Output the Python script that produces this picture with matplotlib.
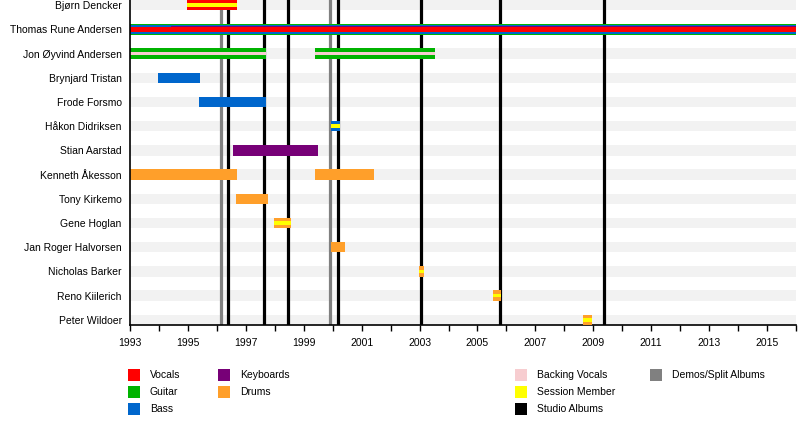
import matplotlib
matplotlib.use("Agg")
import matplotlib.pyplot as plt
from matplotlib.patches import Rectangle
from matplotlib.ticker import FixedLocator

plt.rcParams['font.family'] = ['Liberation Sans', 'DejaVu Sans']

# ---------------- data ----------------
members = ["Bjørn Dencker", "Thomas Rune Andersen", "Jon Øyvind Andersen",
           "Brynjard Tristan", "Frode Forsmo", "Håkon Didriksen", "Stian Aarstad",
           "Kenneth Åkesson", "Tony Kirkemo", "Gene Hoglan", "Jan Roger Halvorsen",
           "Nicholas Barker", "Reno Kiilerich", "Peter Wildoer"]

start_year = 1993.0
end_year = 2016.0
tick_years = list(range(1993, 2016, 2))
minor_years = list(range(1993, 2017))

# (member, from, till)
guitar = [("Thomas Rune Andersen", 1993.0, 2016.0),
          ("Jon Øyvind Andersen", 1993.0, 1997.68),
          ("Jon Øyvind Andersen", 1999.38, 2003.52)]
bass = [("Thomas Rune Andersen", 1993.0, 2016.0),
        ("Brynjard Tristan", 1993.97, 1995.41),
        ("Frode Forsmo", 1995.38, 1997.68),
        ("Håkon Didriksen", 1999.95, 2000.26)]
keyboards_thin = [("Thomas Rune Andersen", 1994.4, 2016.0)]
keyboards = [("Stian Aarstad", 1996.56, 1999.5)]
vocals = [("Bjørn Dencker", 1994.98, 1996.69),
          ("Thomas Rune Andersen", 1993.0, 2016.0)]
drums = [("Kenneth Åkesson", 1993.0, 1996.68),
         ("Kenneth Åkesson", 1999.38, 2001.41),
         ("Tony Kirkemo", 1996.66, 1997.76),
         ("Gene Hoglan", 1997.97, 1998.55),
         ("Jan Roger Halvorsen", 1999.93, 2000.41),
         ("Nicholas Barker", 2002.97, 2003.14),
         ("Reno Kiilerich", 2005.55, 2005.82),
         ("Peter Wildoer", 2008.66, 2008.94)]
backing_vocals = [("Jon Øyvind Andersen", 1993.0, 1997.68),
                  ("Jon Øyvind Andersen", 1999.38, 2003.52)]
session = [("Bjørn Dencker", 1994.98, 1996.69),
           ("Håkon Didriksen", 1999.95, 2000.26),
           ("Gene Hoglan", 1997.97, 1998.55),
           ("Nicholas Barker", 2002.97, 2003.14),
           ("Reno Kiilerich", 2005.55, 2005.82),
           ("Peter Wildoer", 2008.66, 2008.94)]

studio_albums = [1996.40, 1997.63, 1998.46, 2000.18, 2003.05, 2005.77, 2009.36]
demo_albums = [1996.14, 1999.91]

colors = {
    "Vocals": "#ff0000", "Guitar": "#00b300", "Bass": "#0066cc",
    "Keyboards": "#770077", "Drums": "#ff9f2a",
    "Backing Vocals": "#f7cdd0", "Session Member": "#ffff00",
    "Studio Albums": "#000000", "Demos/Split Albums": "#808080",
}

# ---------------- figure ----------------
W, H = 800, 425
fig = plt.figure(figsize=(W / 100, H / 100), dpi=100)
ax = fig.add_axes([130 / W, (H - 325) / H, (796 - 130) / W, 325 / H])

h = 0.43
idx = {m: i for i, m in enumerate(members)}

# background stripes
ax.barh(range(len(members)), end_year - start_year, left=start_year, height=h,
        color="#f2f2f2", zorder=0, linewidth=0)

# album lines
for x in demo_albums:
    ax.axvline(x, color=colors["Demos/Split Albums"], lw=2.3, zorder=1)
for x in studio_albums:
    ax.axvline(x, color=colors["Studio Albums"], lw=2.3, zorder=1)


def draw(data, color, frac, z, offset=0.0):
    for m, a, b in data:
        ax.barh(idx[m] + offset * h, b - a, left=a, height=h * frac,
                color=color, zorder=z, linewidth=0)


draw(guitar, colors["Guitar"], 1.0, 2)
draw(bass[:1], colors["Bass"], 0.8, 3)
draw(bass[1:], colors["Bass"], 1.0, 3)
draw(keyboards_thin, colors["Keyboards"], 0.12, 4, offset=-0.31)
draw(keyboards, colors["Keyboards"], 1.0, 3)
draw(vocals[:1], colors["Vocals"], 1.0, 3)
draw(vocals[1:], colors["Vocals"], 0.5, 5)
draw(drums, colors["Drums"], 1.0, 3)
draw(backing_vocals, colors["Backing Vocals"], 0.3, 5)
draw(session, colors["Session Member"], 0.33, 6)

ax.set_xlim(start_year, end_year)
ax.set_ylim(len(members) - 1 + h / 2, -h / 2)
ax.set_yticks(range(len(members)))
ax.set_yticklabels(members, fontsize=7.5)
ax.tick_params(axis='y', length=0, pad=6)
ax.xaxis.set_major_locator(FixedLocator(tick_years))
ax.xaxis.set_minor_locator(FixedLocator(minor_years))
ax.set_xticklabels([str(y) for y in tick_years])
ax.tick_params(axis='x', which='both', length=4, width=1, labelsize=7.5, pad=5)
for s in ["top", "right"]:
    ax.spines[s].set_visible(False)
ax.spines["left"].set_linewidth(1.2)
ax.spines["bottom"].set_linewidth(1.2)
ax.spines["left"].set_zorder(10)
ax.set_facecolor("white")

# legend
legend_cols = [
    (128, ["Vocals", "Guitar", "Bass"]),
    (218, ["Keyboards", "Drums"]),
    (515, ["Backing Vocals", "Session Member", "Studio Albums"]),
    (650, ["Demos/Split Albums"]),
]
row_y = [375, 392, 409]
sq = 12
for x0, labels in legend_cols:
    for j, lab in enumerate(labels):
        yc = row_y[j]
        fig.add_artist(Rectangle((x0 / W, (H - yc - sq / 2) / H), sq / W, sq / H,
                                 transform=fig.transFigure, color=colors[lab], lw=0))
        fig.text((x0 + 22) / W, (H - yc) / H, lab, fontsize=7.5, va="center", ha="left")

fig.savefig("out.png", dpi=100)
